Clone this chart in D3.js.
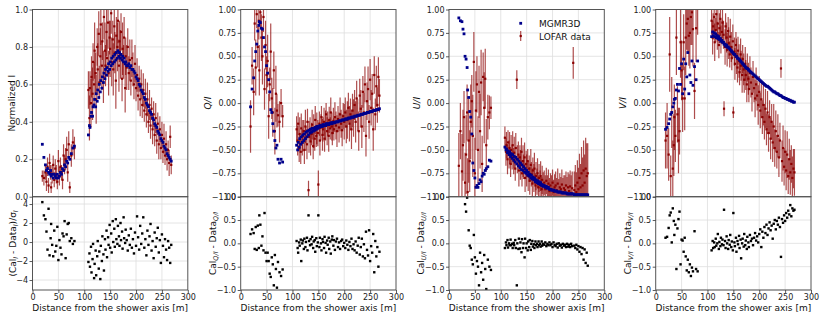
<!DOCTYPE html>
<html>
<head>
<meta charset="utf-8">
<script src="https://cdn.jsdelivr.net/npm/d3@7"></script>
<style>
body { margin: 0; background: #fff; }
text { font-family: "DejaVu Sans", sans-serif; }
</style>
</head>
<body>
<svg id="svg" width="830" height="318"></svg>
<script>
// distance of each antenna from the shower axis [m], shared by all panels
var distance = [
  19,22,25,27,29,31,33,35,36,38,
  40,42,44,46,48,50,52,54,56,58,
  60,62,64,66,68,70,72,75,78,81,
  108,110,111,113,114,116,117,119,120,122,
  123,125,126,128,129,131,132,134,135,137,
  138,140,141,143,144,146,147,149,150,152,
  153,155,156,158,159,161,162,164,165,167,
  168,170,171,173,174,176,177,179,180,182,
  184,186,188,190,192,194,196,198,200,202,
  204,206,208,210,212,214,216,218,220,222,
  224,226,228,230,232,234,236,238,240,242,
  244,246,248,250,252,254,256,258,260,262,
  264,266,268
];

// ---- Stokes I ----
var modelI = [
  0.28,0.21,0.17,0.14,0.15,0.13,0.12,0.14,0.11,0.12,
  0.10,0.12,0.11,0.10,0.12,0.10,0.11,0.13,0.12,0.15,
  0.14,0.17,0.16,0.19,0.18,0.21,0.20,0.23,0.26,0.27,
  0.33,0.38,0.37,0.43,0.45,0.43,0.48,0.49,0.52,0.48,
  0.55,0.51,0.57,0.53,0.60,0.56,0.62,0.58,0.64,0.61,
  0.66,0.63,0.68,0.65,0.69,0.67,0.71,0.68,0.72,0.70,
  0.74,0.71,0.75,0.72,0.76,0.73,0.77,0.74,0.78,0.75,
  0.77,0.74,0.76,0.73,0.75,0.72,0.74,0.71,0.72,0.70,
  0.70,0.71,0.69,0.70,0.68,0.68,0.67,0.66,0.64,0.63,
  0.62,0.60,0.59,0.57,0.56,0.55,0.53,0.52,0.50,0.49,
  0.48,0.46,0.45,0.44,0.42,0.41,0.39,0.38,0.37,0.35,
  0.34,0.33,0.31,0.30,0.29,0.27,0.26,0.25,0.23,0.22,
  0.21,0.20,0.19
];
var dataI = [
  0.11,0.10,0.13,0.08,0.16,0.06,0.18,0.13,0.05,0.12,
  0.17,0.09,0.15,0.12,0.08,0.19,0.11,0.16,0.13,0.09,
  0.22,0.17,0.20,0.25,0.13,0.28,0.05,0.22,0.29,0.26,
  0.57,0.42,0.58,0.50,0.64,0.55,0.72,0.60,0.78,0.66,
  0.52,0.80,0.68,0.87,0.61,0.75,0.92,0.70,0.83,0.64,
  0.96,0.78,0.70,0.88,0.74,0.93,0.66,0.85,0.79,0.98,
  0.72,0.84,0.68,0.91,0.77,0.62,0.86,0.80,0.94,0.70,
  0.83,0.76,0.88,0.63,0.79,0.72,0.85,0.58,0.75,0.69,
  0.80,0.66,0.73,0.62,0.74,0.68,0.60,0.71,0.58,0.65,
  0.54,0.63,0.52,0.60,0.49,0.57,0.46,0.55,0.44,0.52,
  0.40,0.49,0.38,0.47,0.36,0.44,0.33,0.42,0.30,0.39,
  0.28,0.36,0.26,0.33,0.24,0.31,0.22,0.28,0.20,0.25,
  0.18,0.32,0.17
];
var errI = [
  0.03,0.04,0.04,0.05,0.05,0.04,0.05,0.04,0.03,0.05,
  0.05,0.04,0.05,0.05,0.04,0.06,0.05,0.05,0.04,0.05,
  0.06,0.05,0.06,0.07,0.05,0.07,0.03,0.06,0.07,0.06,
  0.10,0.12,0.09,0.13,0.11,0.14,0.10,0.12,0.15,0.11,
  0.13,0.10,0.14,0.12,0.09,0.15,0.11,0.13,0.10,0.14,
  0.12,0.15,0.11,0.13,0.10,0.14,0.12,0.09,0.15,0.11,
  0.13,0.10,0.14,0.12,0.11,0.15,0.10,0.13,0.12,0.14,
  0.11,0.13,0.10,0.12,0.14,0.09,0.11,0.13,0.10,0.12,
  0.10,0.09,0.11,0.08,0.10,0.09,0.08,0.10,0.07,0.09,
  0.08,0.07,0.09,0.08,0.07,0.09,0.06,0.08,0.07,0.09,
  0.06,0.08,0.07,0.06,0.08,0.07,0.06,0.08,0.07,0.06,
  0.08,0.07,0.06,0.07,0.06,0.08,0.05,0.07,0.06,0.05,
  0.07,0.06,0.05
];
var resI = [
  4.2,2.8,2.4,1.1,-0.8,3.5,-1.4,0.4,1.9,-0.3,
  -1.5,1.2,-1.0,-0.4,1.6,-1.9,0.2,-0.6,-1.3,0.9,
  0.6,2.2,-1.7,0.8,1.9,2.0,0.1,0.4,-0.2,0.1,
  -2.1,-1.2,-2.6,-0.5,-3.2,-1.8,-0.2,-3.8,-2.3,-0.9,
  -3.5,-1.5,0.1,-2.8,-1.0,-3.9,-0.4,-2.0,0.6,-1.3,
  -3.0,0.3,-0.8,1.2,-1.6,0.5,-0.3,1.8,-0.6,0.9,
  -1.1,2.2,0.0,1.4,-0.5,2.4,0.3,-0.2,1.7,0.6,
  -0.4,2.0,0.2,1.1,-0.7,2.6,0.4,-0.1,1.3,0.2,
  -0.9,0.7,-0.3,1.4,-0.6,0.3,-1.2,1.0,-0.4,2.7,
  0.5,-0.8,1.7,-0.2,0.9,2.6,-0.6,0.3,-1.4,1.2,
  -0.3,0.6,1.9,-0.9,0.1,-1.7,1.0,-0.5,0.4,1.5,
  -1.1,0.2,-2.2,0.8,-0.4,-1.6,0.3,-0.8,-1.9,0.1,
  -0.6,-2.2,-0.3
];

// ---- Q/I ----
var modelQ = [
  -0.04,0.15,0.27,0.45,0.55,0.63,0.77,0.83,0.87,0.86,
  0.80,0.79,0.70,0.60,0.55,0.40,0.32,0.25,0.12,-0.07,
  -0.10,-0.22,-0.30,-0.40,-0.48,-0.45,-0.60,-0.64,-0.60,-0.63,
  -0.45,-0.50,-0.42,-0.47,-0.38,-0.44,-0.36,-0.42,-0.34,-0.40,
  -0.33,-0.38,-0.31,-0.36,-0.30,-0.34,-0.29,-0.32,-0.28,-0.31,
  -0.27,-0.30,-0.27,-0.29,-0.26,-0.28,-0.25,-0.27,-0.25,-0.26,
  -0.24,-0.25,-0.24,-0.25,-0.23,-0.24,-0.23,-0.24,-0.22,-0.23,
  -0.22,-0.23,-0.22,-0.22,-0.21,-0.22,-0.21,-0.21,-0.21,-0.21,
  -0.20,-0.20,-0.20,-0.19,-0.19,-0.19,-0.18,-0.18,-0.18,-0.17,
  -0.17,-0.17,-0.16,-0.16,-0.16,-0.15,-0.15,-0.15,-0.14,-0.14,
  -0.14,-0.13,-0.13,-0.13,-0.12,-0.12,-0.12,-0.11,-0.11,-0.11,
  -0.10,-0.10,-0.10,-0.09,-0.09,-0.09,-0.08,-0.08,-0.08,-0.07,
  -0.07,-0.07,-0.06
];
var dataQ = [
  -0.25,0.40,0.12,0.85,0.38,0.95,0.60,0.88,0.35,0.97,
  0.70,0.50,0.92,0.15,0.62,0.30,0.45,-0.14,0.20,0.55,
  0.05,-0.10,0.35,-0.30,0.10,-0.08,-0.13,-0.20,0.00,-0.14,
  -0.28,-0.40,-0.22,-0.48,-0.33,-0.52,-0.27,-0.42,-0.35,-0.30,
  -0.50,-0.25,-0.38,-0.44,-0.20,-0.93,-0.36,-0.28,-0.41,-0.33,
  -0.23,-0.46,-0.30,-0.38,-0.18,-0.35,-0.27,-0.32,-0.87,-0.22,
  -0.40,-0.26,-0.15,-0.34,-0.28,-0.20,-0.38,-0.24,-0.12,-0.30,
  -0.22,-0.35,-0.18,-0.27,-0.10,-0.25,-0.32,-0.19,-0.28,-0.15,
  -0.24,-0.30,-0.17,-0.26,-0.12,-0.22,-0.29,-0.14,-0.20,-0.10,
  -0.25,-0.18,-0.05,-0.22,-0.12,-0.28,-0.08,-0.16,-0.02,-0.20,
  0.05,-0.13,-0.30,0.08,-0.06,-0.25,0.12,-0.10,0.20,-0.35,
  0.02,0.15,-0.20,0.25,-0.05,0.10,-0.28,0.30,-0.12,0.18,
  -0.02,0.28,0.08
];
var errQ = [
  0.28,0.20,0.25,0.18,0.30,0.15,0.22,0.20,0.27,0.18,
  0.25,0.30,0.16,0.22,0.26,0.20,0.28,0.24,0.18,0.30,
  0.22,0.26,0.20,0.25,0.30,0.18,0.12,0.22,0.15,0.12,
  0.14,0.16,0.12,0.15,0.18,0.13,0.16,0.14,0.17,0.12,
  0.15,0.18,0.13,0.16,0.14,0.10,0.17,0.13,0.15,0.12,
  0.16,0.14,0.18,0.13,0.15,0.12,0.17,0.14,0.15,0.13,
  0.16,0.14,0.12,0.17,0.13,0.15,0.14,0.16,0.12,0.15,
  0.13,0.17,0.14,0.12,0.16,0.15,0.13,0.14,0.12,0.16,
  0.15,0.17,0.14,0.16,0.18,0.15,0.17,0.14,0.19,0.16,
  0.18,0.20,0.16,0.19,0.17,0.21,0.18,0.20,0.16,0.22,
  0.19,0.17,0.21,0.18,0.20,0.23,0.17,0.21,0.19,0.22,
  0.20,0.24,0.18,0.22,0.19,0.21,0.23,0.20,0.17,0.22,
  0.19,0.21,0.18
];
var resQ = [
  0.20,0.30,0.22,-0.12,0.35,-0.14,0.38,-0.10,0.60,0.40,
  -0.05,0.15,-0.15,0.65,-0.20,-0.38,-0.20,-0.38,-0.65,-0.72,
  -0.30,-0.45,-0.90,-0.25,-0.55,-0.95,-0.40,-0.62,-0.70,-0.56,
  0.05,-0.10,-0.20,0.02,-0.05,0.08,-0.38,0.00,0.06,-0.12,
  0.10,-0.08,0.03,0.12,-0.15,0.60,0.05,-0.04,0.09,-0.02,
  0.14,-0.10,0.04,0.07,-0.18,0.11,-0.06,0.02,0.60,-0.08,
  0.12,0.00,-0.15,0.09,0.03,-0.10,0.14,0.01,-0.20,0.06,
  -0.03,0.12,-0.12,0.04,-0.22,0.08,0.15,-0.05,0.07,-0.14,
  0.04,0.10,-0.08,0.02,-0.12,0.05,0.08,-0.06,0.01,-0.10,
  0.06,-0.03,-0.14,0.03,-0.06,0.10,-0.12,-0.02,-0.15,0.04,
  -0.20,-0.05,0.12,-0.24,-0.08,0.10,-0.28,-0.02,-0.32,0.25,
  -0.14,-0.26,0.28,-0.38,-0.06,-0.20,0.20,-0.62,0.05,-0.28,
  -0.08,-0.50,-0.18
];

// ---- U/I ----
var modelU = [
  0.91,0.88,0.87,0.79,0.74,0.50,0.47,0.38,0.14,0.06,
  -0.09,-0.15,-0.33,-0.64,-0.72,-0.80,-0.90,-0.88,-0.90,-0.86,
  -0.82,-0.84,-0.78,-0.75,-0.76,-0.72,-0.70,-0.68,-0.61,-0.62,
  -0.47,-0.50,-0.49,-0.53,-0.51,-0.55,-0.52,-0.57,-0.54,-0.59,
  -0.55,-0.61,-0.57,-0.63,-0.58,-0.65,-0.60,-0.67,-0.62,-0.69,
  -0.64,-0.71,-0.66,-0.72,-0.68,-0.74,-0.70,-0.75,-0.72,-0.77,
  -0.74,-0.78,-0.76,-0.80,-0.77,-0.81,-0.79,-0.82,-0.80,-0.84,
  -0.82,-0.85,-0.83,-0.86,-0.84,-0.87,-0.85,-0.88,-0.87,-0.89,
  -0.88,-0.90,-0.89,-0.91,-0.90,-0.92,-0.92,-0.93,-0.93,-0.93,
  -0.94,-0.94,-0.94,-0.95,-0.95,-0.95,-0.95,-0.96,-0.96,-0.96,
  -0.96,-0.96,-0.97,-0.97,-0.97,-0.97,-0.97,-0.97,-0.97,-0.98,
  -0.98,-0.98,-0.98,-0.98,-0.98,-0.98,-0.98,-0.98,-0.98,-0.98,
  -0.98,-0.98,-0.98
];
var dataU = [
  -0.67,-0.30,-0.73,-0.45,-0.15,-0.85,-0.55,-0.10,-0.95,-0.40,
  -0.62,-0.20,0.02,-0.35,0.44,-0.75,-0.08,0.20,-0.50,0.12,
  -0.30,0.22,-0.65,0.28,-0.05,0.26,-0.45,-0.15,-0.10,-0.05,
  -0.37,-0.52,-0.45,-0.60,-0.42,-0.55,-0.48,-0.65,-0.50,-0.58,
  -0.45,-0.62,-0.53,-0.70,-0.48,0.25,-0.60,-0.55,-0.72,-0.58,
  -0.66,-0.52,-0.75,-0.62,-0.68,-0.58,-0.80,-0.65,-0.72,-0.62,
  -0.78,-0.70,-0.83,-0.66,-0.76,-0.86,-0.72,-0.80,-0.70,-0.88,
  -0.78,-0.84,-0.75,-0.90,-0.80,-0.86,-0.78,-0.92,-0.82,-0.88,
  -0.85,-0.92,-0.83,-0.90,-0.86,-0.94,-0.88,-0.92,-0.85,-0.95,
  -0.90,-0.88,-0.93,-0.86,-0.95,-0.90,-0.92,-0.87,-0.95,-0.91,
  -0.93,-0.88,-0.96,-0.90,-0.94,-0.89,-0.96,-0.91,0.43,-0.93,
  -0.88,-0.95,-0.85,-0.92,-0.80,-0.90,-0.75,-0.88,-0.72,-0.85,
  -0.70,-0.78,-0.75
];
var errU = [
  0.35,0.30,0.40,0.38,0.28,0.32,0.42,0.30,0.36,0.45,
  0.33,0.40,0.28,0.44,0.32,0.38,0.42,0.30,0.36,0.28,
  0.40,0.35,0.30,0.26,0.38,0.32,0.28,0.24,0.18,0.12,
  0.12,0.15,0.14,0.16,0.13,0.15,0.17,0.14,0.16,0.13,
  0.15,0.14,0.17,0.13,0.16,0.10,0.15,0.14,0.17,0.13,
  0.16,0.15,0.14,0.17,0.13,0.16,0.15,0.14,0.17,0.13,
  0.16,0.14,0.15,0.17,0.13,0.16,0.14,0.15,0.17,0.13,
  0.15,0.14,0.16,0.13,0.15,0.14,0.16,0.13,0.15,0.14,
  0.13,0.15,0.14,0.13,0.15,0.14,0.13,0.15,0.14,0.13,
  0.14,0.15,0.13,0.16,0.14,0.15,0.13,0.16,0.15,0.14,
  0.16,0.15,0.17,0.16,0.18,0.17,0.19,0.18,0.17,0.20,
  0.22,0.21,0.24,0.23,0.26,0.25,0.28,0.30,0.32,0.30,
  0.33,0.35,0.32
];
var resU = [
  1.58,1.18,1.60,1.24,1.10,0.84,0.68,0.98,1.30,0.28,
  -0.05,-0.10,-0.35,-0.45,0.18,-0.30,-0.65,-0.38,-0.50,-0.90,
  -0.20,-0.62,-0.42,-0.78,-0.25,-0.55,-0.98,-0.35,-0.50,-0.57,
  -0.10,0.02,-0.04,0.07,-0.09,0.00,-0.04,0.08,-0.04,-0.01,
  -0.10,0.01,-0.04,0.07,-0.10,-0.90,0.00,-0.12,0.10,-0.11,
  0.02,-0.19,0.09,-0.10,0.00,-0.30,0.10,-0.10,0.00,-0.15,
  0.04,-0.08,0.07,-0.14,-0.01,0.05,-0.07,-0.02,-0.10,0.04,
  -0.04,-0.01,-0.08,0.04,-0.04,-0.01,-0.07,0.04,-0.05,-0.01,
  -0.03,0.02,-0.06,-0.01,-0.04,0.02,-0.04,-0.01,-0.08,0.02,
  -0.04,-0.06,-0.01,-0.09,0.00,-0.05,-0.03,-0.09,-0.01,-0.05,
  -0.03,-0.08,-0.01,-0.07,-0.03,-0.08,-0.01,-0.06,-1.40,-0.05,
  -0.10,-0.03,-0.13,-0.06,-0.18,-0.08,-0.23,-0.10,-0.35,-0.13,
  -0.42,-0.20,-0.48
];

// ---- V/I ----
var modelV = [
  -0.28,-0.26,-0.22,-0.17,-0.12,-0.10,-0.04,0.00,0.04,0.05,
  0.14,0.20,0.13,0.37,0.20,0.42,0.10,0.47,0.15,0.42,
  0.28,0.54,0.10,0.30,0.22,0.45,0.19,0.39,0.25,0.45,
  0.71,0.76,0.72,0.75,0.71,0.74,0.70,0.72,0.69,0.71,
  0.68,0.69,0.66,0.67,0.65,0.65,0.63,0.63,0.61,0.62,
  0.60,0.60,0.59,0.58,0.57,0.56,0.55,0.54,0.53,0.52,
  0.52,0.50,0.50,0.48,0.48,0.47,0.46,0.45,0.44,0.43,
  0.42,0.41,0.40,0.39,0.38,0.37,0.37,0.36,0.35,0.34,
  0.33,0.32,0.31,0.30,0.29,0.28,0.27,0.26,0.25,0.24,
  0.23,0.22,0.21,0.20,0.19,0.18,0.18,0.17,0.16,0.15,
  0.14,0.13,0.12,0.12,0.11,0.10,0.10,0.09,0.08,0.08,
  0.07,0.06,0.06,0.05,0.05,0.04,0.04,0.03,0.03,0.02,
  0.02,0.01,0.01
];
var dataV = [
  -0.40,-0.35,-0.55,0.52,-0.78,-0.10,-0.70,-0.45,-0.15,-0.35,
  0.70,-0.12,-0.40,-0.30,0.65,0.35,0.05,0.65,0.05,0.70,
  0.85,0.90,0.72,0.75,0.92,0.97,0.79,0.13,0.80,1.05,
  0.88,0.70,0.82,0.92,0.65,0.78,0.95,0.72,0.85,0.62,
  0.80,0.90,0.68,0.76,0.86,0.73,-0.06,0.60,0.82,0.70,
  0.57,0.77,0.64,0.52,0.71,0.60,0.48,0.66,-0.10,0.55,
  0.42,0.62,0.50,0.38,0.56,0.45,0.33,0.52,0.40,0.30,
  0.47,0.36,0.25,0.42,0.30,0.20,0.38,0.26,0.15,0.32,
  0.22,0.10,0.28,0.16,0.05,0.20,0.08,-0.02,0.12,-0.08,
  0.04,-0.15,-0.02,-0.20,-0.06,-0.28,-0.10,-0.32,-0.15,-0.38,
  -0.20,-0.42,-0.25,-0.48,-0.30,-0.52,-0.35,-0.58,-0.40,0.37,
  -0.62,-0.48,-0.68,-0.52,-0.72,-0.55,-0.78,-0.60,-0.74,-0.65,
  -0.80,-0.70,-0.74
];
var errV = [
  0.30,0.35,0.28,0.40,0.22,0.38,0.30,0.33,0.35,0.28,
  0.40,0.30,0.35,0.25,0.38,0.32,0.36,0.30,0.34,0.40,
  0.28,0.36,0.32,0.38,0.30,0.35,0.40,0.30,0.36,0.32,
  0.15,0.18,0.14,0.16,0.20,0.13,0.17,0.15,0.19,0.14,
  0.16,0.18,0.15,0.13,0.17,0.15,0.08,0.19,0.14,0.16,
  0.18,0.15,0.17,0.14,0.19,0.16,0.13,0.18,0.06,0.15,
  0.17,0.14,0.19,0.16,0.15,0.18,0.14,0.17,0.16,0.19,
  0.15,0.17,0.14,0.18,0.16,0.19,0.15,0.17,0.14,0.18,
  0.16,0.19,0.17,0.15,0.20,0.18,0.16,0.21,0.17,0.19,
  0.20,0.18,0.22,0.19,0.21,0.17,0.23,0.20,0.18,0.22,
  0.19,0.21,0.24,0.20,0.22,0.18,0.23,0.21,0.19,0.10,
  0.22,0.24,0.20,0.23,0.21,0.25,0.19,0.22,0.24,0.20,
  0.23,0.21,0.25
];
var resV = [
  0.12,0.14,0.33,0.60,0.66,0.02,0.75,0.48,0.18,0.40,
  -0.55,0.32,0.52,0.68,-0.45,0.08,0.06,-0.18,0.12,-0.28,
  -0.58,-0.35,-0.62,-0.45,-0.70,-0.52,-0.60,0.26,-0.55,-0.60,
  -0.15,0.05,-0.10,0.02,-0.08,0.10,-0.05,0.00,0.20,-0.12,
  0.03,-0.06,0.12,-0.02,0.08,-0.04,0.72,0.05,-0.10,0.15,
  0.00,-0.12,0.07,-0.03,0.18,-0.08,0.04,-0.15,0.65,0.02,
  -0.06,0.12,-0.18,0.05,-0.02,0.16,-0.10,0.08,-0.32,0.00,
  0.10,-0.07,0.20,-0.04,0.06,-0.12,0.14,0.02,-0.08,0.18,
  0.05,0.10,-0.04,0.12,0.22,0.06,0.15,0.02,0.20,0.30,
  -0.08,0.25,0.12,0.35,0.22,0.40,0.18,0.32,0.45,0.28,
  0.38,0.10,0.42,0.50,0.30,0.48,0.40,0.55,0.35,-0.29,
  0.52,0.44,0.60,0.48,0.65,0.55,0.70,0.62,0.82,0.58,
  0.75,0.70,0.72
];

var xTicks = [0, 50, 100, 150, 200, 250, 300];
var legendLabels = ["MGMR3D", "LOFAR data"];

// layout
var svg = d3.select("#svg");
var lefts = [32.5, 240.7, 449, 655.7];
var pw = 155.3;
var yTop = 9.5, yMid = 196.7, yBot = 290;

var panels = [
  {model: modelI, data: dataI, err: errI, res: resI,
   topDomain: [0, 1], topTicks: [0, 0.2, 0.4, 0.6, 0.8, 1.0], topFmt: ".1f",
   botDomain: [-5.05, 4.77], botTicks: [-4, -2, 0, 2, 4], botFmt: "d",
   topLabel: [["Normalized I", ""]],
   botLabel: [["(Cal", ""], ["I", "sub"], [" - Data", ""], ["I", "sub"], [")/\u03c3", ""], ["I", "sub"]],
   topOff: 17.5, botOff: 17},
  {model: modelQ, data: dataQ, err: errQ, res: resQ,
   topDomain: [-1, 1], topTicks: [-1, -0.75, -0.5, -0.25, 0, 0.25, 0.5, 0.75, 1], topFmt: ".2f",
   botDomain: [-1, 1], botTicks: [-1, -0.5, 0, 0.5, 1], botFmt: ".1f",
   topLabel: [["Q/I", "it"]],
   botLabel: [["Cal", ""], ["Q/I", "sub"], [" - Data", ""], ["Q/I", "sub"]],
   topOff: 29.5, botOff: 25},
  {model: modelU, data: dataU, err: errU, res: resU,
   topDomain: [-1, 1], topTicks: [-1, -0.75, -0.5, -0.25, 0, 0.25, 0.5, 0.75, 1], topFmt: ".2f",
   botDomain: [-1, 1], botTicks: [-1, -0.5, 0, 0.5, 1], botFmt: ".1f",
   topLabel: [["U/I", "it"]],
   botLabel: [["Cal", ""], ["U/I", "sub"], [" - Data", ""], ["U/I", "sub"]],
   topOff: 29.5, botOff: 25},
  {model: modelV, data: dataV, err: errV, res: resV,
   topDomain: [-1, 1], topTicks: [-1, -0.75, -0.5, -0.25, 0, 0.25, 0.5, 0.75, 1], topFmt: ".2f",
   botDomain: [-1, 1], botTicks: [-1, -0.5, 0, 0.5, 1], botFmt: ".1f",
   topLabel: [["V/I", "it"]],
   botLabel: [["Cal", ""], ["V/I", "sub"], [" - Data", ""], ["V/I", "sub"]],
   topOff: 29.5, botOff: 25}
];

var red = "#8b0000", blue = "#00008b";
var idx = d3.range(distance.length);

function richText(t, parts) {
  var shifted = false;
  parts.forEach(function(pt) {
    var s = t.append("tspan").text(pt[0]);
    if (pt[1] == "sub") {
      s.attr("font-size", "6.5px").attr("font-style", "italic").attr("dy", shifted ? 0 : 2.2);
      shifted = true;
    } else {
      if (shifted) s.attr("dy", -2.2);
      shifted = false;
      if (pt[1] == "it") s.attr("font-style", "italic");
    }
  });
}

function styleAxis(a) {
  a.select(".domain").remove();
  a.selectAll(".tick line").attr("stroke", "#333").attr("stroke-width", 0.8);
  a.selectAll(".tick text").attr("fill", "#222").attr("font-size", "8px")
    .attr("font-family", "DejaVu Sans");
}

panels.forEach(function(p, k) {
  var x0 = lefts[k];
  var x = d3.scaleLinear().domain([0, 300]).range([x0, x0 + pw]);
  var yT = d3.scaleLinear().domain(p.topDomain).range([yMid, yTop]);
  var yB = d3.scaleLinear().domain(p.botDomain).range([yBot, yMid]);
  var g = svg.append("g");

  var defs = svg.append("defs");
  defs.append("clipPath").attr("id", "clipT" + k).append("rect")
    .attr("x", x0).attr("y", yTop).attr("width", pw).attr("height", yMid - yTop);
  defs.append("clipPath").attr("id", "clipB" + k).append("rect")
    .attr("x", x0).attr("y", yMid).attr("width", pw).attr("height", yBot - yMid);

  // grid
  var grid = g.append("g").attr("stroke", "#dedede").attr("stroke-width", 0.8);
  xTicks.slice(1, -1).forEach(function(t) {
    grid.append("line").attr("x1", x(t)).attr("x2", x(t)).attr("y1", yTop).attr("y2", yBot);
  });
  p.topTicks.forEach(function(t) {
    grid.append("line").attr("x1", x0).attr("x2", x0 + pw).attr("y1", yT(t)).attr("y2", yT(t));
  });
  p.botTicks.forEach(function(t) {
    grid.append("line").attr("x1", x0).attr("x2", x0 + pw).attr("y1", yB(t)).attr("y2", yB(t));
  });

  // LOFAR data with error bars
  var gt = g.append("g").attr("clip-path", "url(#clipT" + k + ")");
  gt.append("g").selectAll("line").data(idx).join("line")
    .attr("x1", function(i) { return x(distance[i]); })
    .attr("x2", function(i) { return x(distance[i]); })
    .attr("y1", function(i) { return yT(p.data[i] - p.err[i]); })
    .attr("y2", function(i) { return yT(p.data[i] + p.err[i]); })
    .attr("stroke", red).attr("stroke-opacity", 0.7).attr("stroke-width", 1.2);
  gt.append("g").selectAll("rect").data(idx).join("rect")
    .attr("x", function(i) { return x(distance[i]) - 1.1; })
    .attr("y", function(i) { return yT(p.data[i]) - 1.1; })
    .attr("width", 2.2).attr("height", 2.2).attr("fill", red);

  // MGMR3D model
  gt.append("g").selectAll("rect").data(idx).join("rect")
    .attr("x", function(i) { return x(distance[i]) - 1.4; })
    .attr("y", function(i) { return yT(p.model[i]) - 1.4; })
    .attr("width", 2.8).attr("height", 2.8).attr("fill", blue);

  // residuals
  var gb = g.append("g").attr("clip-path", "url(#clipB" + k + ")");
  gb.selectAll("rect").data(idx).join("rect")
    .attr("x", function(i) { return x(distance[i]) - 1.2; })
    .attr("y", function(i) { return yB(p.res[i]) - 1.2; })
    .attr("width", 2.4).attr("height", 2.4).attr("fill", "#000");

  // frames
  [[yTop, yMid], [yMid, yBot]].forEach(function(r) {
    g.append("rect").attr("x", x0).attr("y", r[0]).attr("width", pw).attr("height", r[1] - r[0])
      .attr("fill", "none").attr("stroke", "#555").attr("stroke-width", 1);
  });

  // axes
  var aT = g.append("g").attr("transform", "translate(" + x0 + ",0)")
    .call(d3.axisLeft(yT).tickValues(p.topTicks).tickFormat(d3.format(p.topFmt)).tickSize(3).tickPadding(1.5));
  styleAxis(aT);
  var aB = g.append("g").attr("transform", "translate(" + x0 + ",0)")
    .call(d3.axisLeft(yB).tickValues(p.botTicks).tickFormat(d3.format(p.botFmt)).tickSize(3).tickPadding(1.5));
  styleAxis(aB);
  var aX = g.append("g").attr("transform", "translate(0," + yBot + ")")
    .call(d3.axisBottom(x).tickValues(xTicks).tickFormat(d3.format("d")).tickSize(3).tickPadding(1.5));
  styleAxis(aX);

  // labels
  g.append("text").attr("x", x0 + pw / 2).attr("y", 311).attr("text-anchor", "middle")
    .attr("font-size", "9px").attr("fill", "#111").text("Distance from the shower axis [m]");
  var lt = g.append("text").attr("text-anchor", "middle").attr("font-size", "9px").attr("fill", "#111")
    .attr("transform", "translate(" + (x0 - p.topOff) + "," + ((yTop + yMid) / 2) + ") rotate(-90)");
  richText(lt, p.topLabel);
  var lb = g.append("text").attr("text-anchor", "middle").attr("font-size", "9px").attr("fill", "#111")
    .attr("transform", "translate(" + (x0 - p.botOff) + "," + ((yMid + yBot) / 2) + ") rotate(-90)");
  richText(lb, p.botLabel);
});

// legend in the U/I panel
var lg = svg.append("g");
lg.append("rect").attr("x", 520.7 - 1.4).attr("y", 23.3 - 1.4).attr("width", 2.8).attr("height", 2.8).attr("fill", blue);
lg.append("line").attr("x1", 520.7).attr("x2", 520.7).attr("y1", 31).attr("y2", 41)
  .attr("stroke", red).attr("stroke-opacity", 0.7).attr("stroke-width", 1.2);
lg.append("rect").attr("x", 520.7 - 1.1).attr("y", 36 - 1.1).attr("width", 2.2).attr("height", 2.2).attr("fill", red);
lg.selectAll("text.leg").data(legendLabels).join("text").attr("class", "leg")
  .attr("x", 539).attr("y", function(d, i) { return i == 0 ? 26.5 : 39.5; })
  .attr("font-size", "9px").attr("fill", "#111").text(function(d) { return d; });
</script>
</body>
</html>
